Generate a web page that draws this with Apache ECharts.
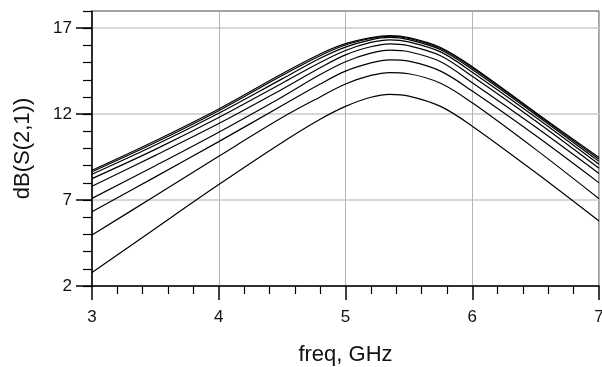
<!DOCTYPE html>
<html>
<head>
<meta charset="utf-8">
<script src="https://cdn.jsdelivr.net/npm/echarts@6/dist/echarts.min.js"></script>
<style>
  html, body { margin: 0; padding: 0; background: #fff; }
  #chart { width: 602px; height: 367px; }
</style>
</head>
<body>
<div id="chart"></div>
<script>
// frequency points (GHz)
var freq = [3.0, 3.5, 4.0, 4.5, 4.8, 5.0, 5.2, 5.35, 5.5, 5.75, 6.0, 6.5, 7.0];

// dB(S(2,1)) for each swept curve, bottom to top
var s21_1 = [2.78, 5.35, 7.90, 10.35, 11.70, 12.45, 12.98, 13.15, 13.05, 12.45, 11.30, 8.60, 5.78];
var s21_2 = [4.97, 7.25, 9.55, 11.80, 13.00, 13.75, 14.25, 14.42, 14.35, 13.80, 12.66, 9.95, 7.08];
var s21_3 = [6.32, 8.35, 10.40, 12.50, 13.75, 14.50, 14.98, 15.16, 15.08, 14.50, 13.34, 10.75, 8.00];
var s21_4 = [7.10, 9.00, 10.95, 13.00, 14.30, 15.05, 15.55, 15.72, 15.63, 15.05, 13.83, 11.25, 8.55];
var s21_5 = [7.80, 9.60, 11.45, 13.45, 14.70, 15.45, 15.92, 16.09, 15.98, 15.40, 14.20, 11.60, 8.85];
var s21_6 = [8.25, 9.95, 11.80, 13.80, 15.00, 15.70, 16.17, 16.32, 16.20, 15.62, 14.44, 11.82, 9.08];
var s21_7 = [8.50, 10.20, 12.05, 14.05, 15.25, 15.90, 16.32, 16.46, 16.33, 15.75, 14.60, 11.97, 9.25];
var s21_8 = [8.65, 10.35, 12.20, 14.25, 15.40, 16.02, 16.40, 16.53, 16.40, 15.82, 14.70, 12.05, 9.38];
var s21_9 = [8.73, 10.45, 12.30, 14.35, 15.50, 16.10, 16.45, 16.57, 16.45, 15.88, 14.76, 12.10, 9.47];

var curves = [s21_1, s21_2, s21_3, s21_4, s21_5, s21_6, s21_7, s21_8, s21_9];

// tick labels
var xTicks = [3, 4, 5, 6, 7];
var yTicks = [2, 7, 12, 17];

var font = 'Liberation Sans, Arial, sans-serif';

var series = curves.map(function (c) {
    return {
        type: 'line',
        data: freq.map(function (f, i) { return [f, c[i]]; }),
        smooth: 0.35,
        showSymbol: false,
        silent: true,
        lineStyle: { color: '#000', width: 1.2 }
    };
});

var option = {
    animation: false,
    grid: {
        left: 92, right: 3, top: 11, bottom: 81,
        outerBoundsMode: 'none',
        containLabel: false,
        show: true, borderColor: '#444', borderWidth: 1
    },
    xAxis: {
        type: 'value',
        min: 3, max: 7, interval: 1,
        name: 'freq, GHz',
        nameLocation: 'middle',
        nameGap: 58,
        nameTextStyle: { fontFamily: font, fontSize: 22, color: '#111' },
        axisLine: { lineStyle: { color: '#000', width: 1.5 } },
        axisTick: { show: true, inside: false, length: 14, lineStyle: { color: '#000', width: 1.5 } },
        minorTick: { show: true, splitNumber: 5, length: 8, lineStyle: { color: '#000', width: 1.2 } },
        axisLabel: {
            fontFamily: font, fontSize: 17, color: '#111', margin: 23,
            customValues: xTicks
        },
        splitLine: { show: true, lineStyle: { color: '#b4b4b4', width: 1 } }
    },
    yAxis: [
        {
            type: 'value',
            min: 2, max: 18, interval: 5,
            name: 'dB(S(2,1))',
            nameLocation: 'middle',
            nameGap: 58,
            nameTextStyle: { fontFamily: font, fontSize: 22, color: '#111' },
            axisLine: { show: true, lineStyle: { color: '#000', width: 1.5 } },
            axisTick: { show: true, length: 16, customValues: yTicks, lineStyle: { color: '#000', width: 1.5 } },
            axisLabel: {
                fontFamily: font, fontSize: 17, color: '#111', margin: 20,
                customValues: yTicks
            },
            splitLine: { show: true, lineStyle: { color: '#c6cbcb', width: 1.5 } }
        },
        {
            // minor ticks every 1 dB
            type: 'value',
            position: 'left',
            min: 2, max: 18, interval: 1,
            axisLine: { show: false },
            axisTick: { show: true, length: 9, lineStyle: { color: '#000', width: 1.2 } },
            axisLabel: { show: false },
            splitLine: { show: false }
        }
    ],
    series: series
};

var chart = echarts.init(document.getElementById('chart'));
chart.setOption(option);
</script>
</body>
</html>
